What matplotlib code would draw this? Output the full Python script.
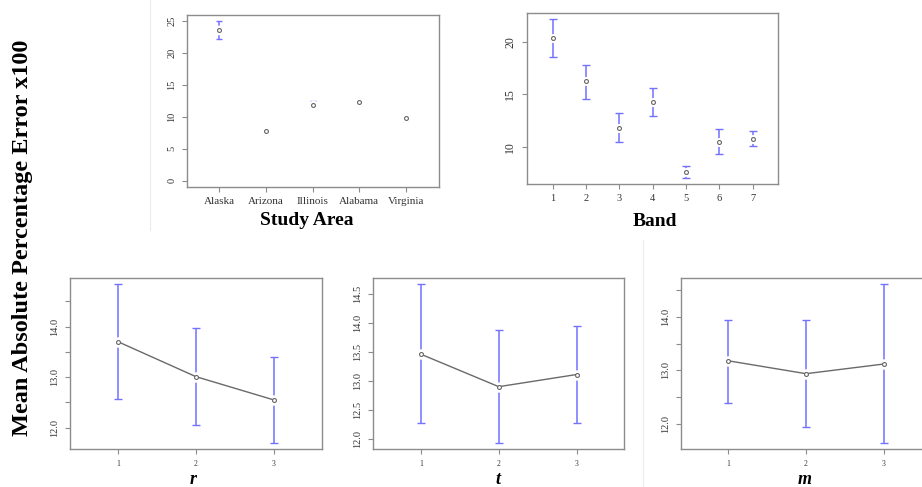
import numpy as np
import matplotlib
matplotlib.use('Agg')
import matplotlib.pyplot as plt
from matplotlib.lines import Line2D

plt.rcParams['font.family'] = ['Liberation Serif', 'DejaVu Serif']

# study area panel
areas = ['Alaska', 'Arizona', 'Illinois', 'Alabama', 'Virginia']
area_mean = [23.6, 7.7, 11.9, 12.3, 9.8]
area_lo = [22.1, 7.25, 11.4, 11.8, 9.3]
area_hi = [25.0, 8.15, 12.4, 12.8, 10.3]

# band panel
bands = [1, 2, 3, 4, 5, 6, 7]
band_mean = [20.35, 16.25, 11.85, 14.3, 7.6, 10.5, 10.75]
band_lo = [18.5, 14.6, 10.5, 12.95, 7.05, 9.3, 10.1]
band_hi = [22.15, 17.8, 13.2, 15.6, 8.2, 11.75, 11.5]

# parameter panels
levels = [1, 2, 3]
r_mean = [13.70, 13.01, 12.55]
r_lo = [12.57, 12.05, 11.70]
r_hi = [14.84, 13.97, 13.39]
t_mean = [13.46, 12.90, 13.11]
t_lo = [12.27, 11.93, 12.27]
t_hi = [14.67, 13.87, 13.95]
m_mean = [13.18, 12.94, 13.12]
m_lo = [12.40, 11.94, 11.65]
m_hi = [13.95, 13.95, 14.61]

W, H = 922, 487
fig = plt.figure(figsize=(W / 100, H / 100), dpi=100)

def rect(x0, y0, x1, y1):
    return [x0 / W, 1 - y1 / H, (x1 - x0) / W, (y1 - y0) / H]

blue = '#7272ff'
grey = '#8c8c8c'
pt = '#666666'

def panel(r, x, mean, lo, hi, xlim, ylim, yticks, ylabels, xsize, ysize,
          line=False, gap=7.5, cap=2.6):
    ax = fig.add_axes(r)
    mean = np.array(mean); lo = np.array(lo); hi = np.array(hi)
    ax.errorbar(x, mean, yerr=[mean - lo, hi - mean], fmt='none',
                ecolor=blue, elinewidth=1.1, capsize=cap, capthick=1.0, zorder=1)
    # white gap round the points, as in plotCI
    ax.plot(x, mean, 'o', color='white', markersize=gap, markeredgewidth=0, zorder=2)
    if line:
        ax.plot(x, mean, '-', color='#6a6a6a', linewidth=1.0, zorder=3)
    ax.plot(x, mean, 'o', markerfacecolor='white', markeredgecolor=pt,
            markersize=2.8, markeredgewidth=0.8, zorder=4)
    ax.set_xlim(*xlim)
    ax.set_ylim(*ylim)
    ax.set_yticks(yticks, ylabels, rotation=90, va='center')
    for s in ax.spines.values():
        s.set_color(grey)
        s.set_linewidth(1.0)
    ax.tick_params(axis='both', colors=grey, length=3.5, width=0.8)
    ax.tick_params(axis='x', labelsize=xsize, labelcolor='#333333', pad=4)
    ax.tick_params(axis='y', labelsize=ysize, labelcolor='#333333', pad=4)
    return ax

ax1 = panel(rect(187, 15, 439, 186.7), [1, 2, 3, 4, 5], area_mean, area_lo, area_hi,
            (0.31, 5.71), (-0.94, 25.9), [0, 5, 10, 15, 20, 25],
            ['0', '5', '10', '15', '20', '25'], 8, 7.5, gap=7.0, cap=2.2)
ax1.set_xticks([1, 2, 3, 4, 5], areas)

ax2 = panel(rect(526.7, 12.7, 778, 184), bands, band_mean, band_lo, band_hi,
            (0.22, 7.76), (6.49, 22.75), [10, 15, 20], ['10', '15', '20'], 7.5, 8.5, gap=6.5)
ax2.set_xticks(bands, [str(b) for b in bands])

yt = [12.0, 12.5, 13.0, 13.5, 14.0, 14.5]
sparse = ['12.0', '', '13.0', '', '14.0', '']
full = ['12.0', '12.5', '13.0', '13.5', '14.0', '14.5']

ax3 = panel(rect(70, 277.7, 321.7, 449.3), levels, r_mean, r_lo, r_hi,
            (0.38, 3.62), (11.57, 14.97), yt, sparse, 5.5, 7.5, line=True)
ax4 = panel(rect(372.7, 277.7, 624, 449.3), levels, t_mean, t_lo, t_hi,
            (0.38, 3.61), (11.82, 14.78), yt, full, 5.5, 7.5, line=True)
ax5 = panel(rect(680.7, 277.7, 931.8, 449.3), levels, m_mean, m_lo, m_hi,
            (0.386, 3.62), (11.53, 14.73), yt, sparse, 5.5, 7.5, line=True)
for ax in (ax3, ax4, ax5):
    ax.set_xticks(levels, ['1', '2', '3'])

# axis titles
fig.text(307 / W, 1 - 225 / H, 'Study Area', ha='center', va='baseline',
         fontsize=14, fontweight='bold')
fig.text(654.5 / W, 1 - 226 / H, 'Band', ha='center', va='baseline',
         fontsize=14, fontweight='bold')
for xc, lab in [(193, 'r'), (498, 't'), (805, 'm')]:
    fig.text(xc / W, 1 - 484 / H, lab, ha='center', va='baseline',
             fontsize=13, fontweight='bold', style='italic')
fig.text(23 / W, 1 - 237.5 / H, 'Mean Absolute Percentage Error x100',
         rotation=90, ha='center', va='center', fontsize=17.5, fontweight='bold')

# faint edges of the pasted panels
fig.add_artist(Line2D([150 / W, 150 / W], [1 - 230 / H, 1.0], color='#ececec', lw=0.8))
fig.add_artist(Line2D([643 / W, 643 / W], [0.0, 1 - 240 / H], color='#ececec', lw=0.8))

fig.savefig('out.png', dpi=100)
